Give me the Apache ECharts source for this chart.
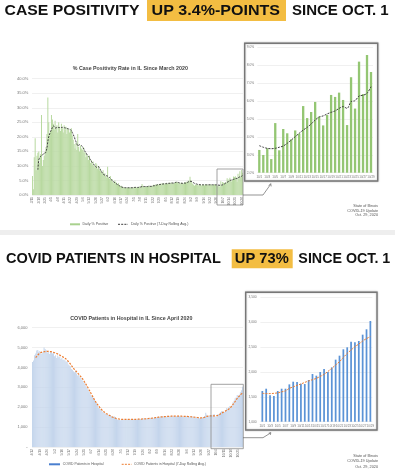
<!DOCTYPE html>
<html><head><meta charset="utf-8">
<script src="https://cdn.jsdelivr.net/npm/echarts@6/dist/echarts.min.js"></script>
<style>html,body{margin:0;padding:0;background:#fff}#c{width:395px;height:473px}</style>
</head><body><div id="c"></div>
<script>
// ---------- DATA ----------
// Case positivity, daily from 3/11/2020 to 9/30/2020 (%)
const posDaily = [
 6.5,2.0,13.0,19.5,8.5,13.5,14.5,15.0,11.0,14.0,
 27.5,10.0,12.0,13.5,15.0,16.5,21.0,33.5,25.0,20.5,
 22.0,27.5,26.0,24.5,22.5,25.5,23.0,24.0,21.5,25.0,
 23.5,22.0,24.5,23.0,21.5,24.0,22.5,23.5,21.0,23.0,
 22.5,21.5,22.0,23.0,20.5,19.0,17.5,16.0,18.0,15.5,
 21.0,16.5,15.0,17.0,16.0,15.5,16.5,14.5,15.0,13.0,
 14.0,13.5,12.0,13.5,11.0,12.0,10.5,11.5,10.0,9.5,
 11.0,10.5,9.0,10.0,8.5,9.0,8.0,7.5,8.5,7.0,
 7.5,6.5,6.0,9.7,6.0,5.5,6.5,5.0,5.5,4.5,
 4.0,5.0,4.5,4.0,3.5,4.0,3.3,3.0,3.2,2.8,
 2.5,2.7,2.4,2.6,2.3,2.5,2.7,2.4,2.6,2.5,
 2.6,2.4,2.7,2.5,2.8,2.6,2.4,2.7,2.9,2.6,
 3.0,3.8,3.2,2.9,2.7,3.0,2.8,3.1,2.9,3.2,
 3.0,2.8,3.3,3.1,3.5,3.2,3.6,3.4,3.8,3.5,
 3.7,3.9,3.6,4.0,3.8,4.1,3.7,3.9,4.2,3.8,
 4.0,4.3,3.9,4.1,4.4,3.8,4.0,4.2,4.6,4.3,
 4.5,4.0,4.2,3.9,4.1,4.3,3.8,4.0,4.4,4.2,
 4.6,4.3,5.0,4.8,6.3,5.2,4.4,3.8,3.5,3.2,
 3.6,3.4,3.7,3.3,3.5,3.8,3.4,3.2,3.6,3.5,
 3.3,3.7,3.4,3.6,3.5,3.2,3.8,3.4,3.6,3.3,
 3.5,3.7,3.4,3.6
];
const posAvg = [
 null,null,null,null,null,null,8.7,12.1,12.8,13.3,
 13.6,13.8,14.0,14.4,14.4,15.0,16.1,18.5,20.1,21.0,
 21.8,22.5,23.2,23.8,23.5,23.0,23.1,23.2,23.3,23.2,
 23.2,23.1,23.2,23.3,23.1,23.2,23.0,23.1,22.9,22.8,
 22.7,22.6,22.4,22.2,21.5,20.8,20.1,19.2,18.4,17.6,
 16.9,17.1,17.3,17.2,17.0,16.7,16.2,15.8,15.0,14.6,
 14.0,13.6,13.3,12.7,12.1,11.6,11.2,10.8,10.4,10.0,
 9.7,9.5,9.6,9.8,9.2,8.7,8.2,7.7,7.2,7.0,
 6.8,6.7,6.6,6.5,6.3,6.0,5.7,5.3,5.0,4.7,
 4.5,4.2,4.0,3.8,3.6,3.4,3.2,3.0,2.8,2.7,
 2.6,2.6,2.5,2.5,2.5,2.5,2.5,2.5,2.5,2.5,
 2.5,2.5,2.6,2.6,2.6,2.6,2.6,2.6,2.7,2.7,
 2.8,2.9,2.9,2.9,2.9,2.9,2.9,2.9,3.0,3.0,
 3.0,2.9,3.0,3.1,3.2,3.2,3.3,3.4,3.5,3.5,
 3.6,3.6,3.7,3.7,3.8,3.8,3.9,3.9,3.9,3.9,
 4.0,4.0,4.0,4.1,4.1,4.1,4.1,4.2,4.3,4.4,
 4.4,4.3,4.2,4.1,4.1,4.0,4.0,4.0,4.1,4.1,
 4.2,4.3,4.5,4.6,4.7,4.7,4.6,4.4,4.2,4.0,
 3.9,3.8,3.7,3.6,3.6,3.5,3.5,3.5,3.5,3.5,
 3.5,3.5,3.5,3.5,3.5,3.5,3.5,3.5,3.5,3.5,
 3.5,3.5,3.5,3.5
];
// October 1-29 (inset)
const posOctDaily = [3.27,2.99,3.36,2.76,4.77,3.25,4.44,4.20,3.86,4.36,4.18,5.72,5.05,5.39,5.95,5.13,4.64,5.22,6.34,6.23,6.47,6.06,4.66,7.33,5.58,8.20,6.39,8.57,7.62];
const posOctAvg = [3.51,3.42,3.36,3.34,3.36,3.42,3.49,3.64,3.82,4.01,4.20,4.38,4.53,4.72,4.94,5.11,5.17,5.28,5.37,5.45,5.59,5.69,5.59,5.97,6.02,6.28,6.32,6.43,6.80];

// Hospital patients, daily from 4/12/2020 to 9/30/2020
const hospDaily = [
 4280,4350,4610,4700,4850,4880,4790,4830,4680,4720,
 4760,5010,4930,4870,4750,4790,4680,4820,4760,4700,
 4730,4560,4620,4480,4600,4520,4550,4430,4480,4380,
 4400,4350,4280,4320,4150,4100,4060,3920,3880,3810,
 3760,3820,3700,3590,3620,3510,3480,3400,3330,3250,
 3190,3050,2950,2870,2760,2640,2580,2520,2480,2370,
 2300,2200,2080,1960,1920,1880,1830,1760,1720,1700,
 1660,1640,1620,1580,1600,1560,1540,1510,1530,1480,
 1420,1370,1360,1390,1350,1380,1400,1370,1360,1390,
 1380,1400,1370,1390,1360,1400,1380,1410,1390,1370,
 1400,1420,1390,1410,1380,1420,1440,1400,1410,1430,
 1450,1420,1460,1440,1480,1450,1470,1500,1480,1510,
 1520,1500,1540,1510,1550,1530,1560,1520,1540,1570,
 1550,1530,1560,1540,1570,1550,1520,1560,1540,1570,
 1550,1530,1560,1540,1520,1550,1530,1560,1510,1540,
 1520,1550,1500,1530,1480,1460,1490,1450,1470,1440,
 1460,1430,1480,1510,1560,1720,1620,1540,1570,1560,
 1590,1580
];
const hospAvg = [
 null,null,null,4500,4560,4620,4680,4720,4750,4770,
 4780,4790,4800,4810,4810,4810,4800,4800,4790,4780,
 4760,4740,4720,4700,4680,4650,4620,4590,4560,4530,
 4500,4460,4420,4370,4310,4250,4180,4100,4030,3960,
 3900,3840,3780,3720,3660,3600,3540,3470,3400,3320,
 3240,3150,3060,2970,2870,2770,2670,2570,2470,2380,
 2290,2210,2130,2060,1990,1930,1870,1820,1770,1730,
 1690,1660,1630,1600,1570,1540,1510,1490,1470,1450,
 1430,1420,1410,1400,1395,1390,1385,1385,1385,1385,
 1385,1385,1385,1385,1385,1390,1390,1390,1390,1395,
 1395,1400,1400,1405,1405,1410,1410,1415,1420,1425,
 1430,1435,1440,1445,1450,1460,1465,1475,1480,1490,
 1500,1505,1510,1515,1520,1525,1530,1535,1540,1540,
 1545,1545,1550,1550,1550,1550,1550,1550,1550,1550,
 1550,1550,1550,1545,1545,1540,1540,1540,1535,1530,
 1525,1520,1515,1510,1500,1495,1490,1485,1475,1470,
 1465,1465,1470,1480,1495,1520,1540,1555,1565,1570,
 1570,1570
];
const hospOctDaily = [1617,1663,1530,1516,1617,1663,1663,1750,1804,1797,1764,1757,1838,1958,1925,1999,2059,1999,2092,2247,2327,2455,2495,2609,2595,2622,2749,2857,3024];
const hospOctAvg = [1570,1565,1565,1570,1580,1600,1620,1670,1700,1730,1757,1790,1818,1845,1871,1910,1952,2010,2072,2140,2206,2290,2374,2440,2508,2560,2622,2670,2710];

const octCats = ['10/1','10/2','10/3','10/4','10/5','10/6','10/7','10/8','10/9','10/10','10/11','10/12','10/13','10/14','10/15','10/16','10/17','10/18','10/19','10/20','10/21','10/22','10/23','10/24','10/25','10/26','10/27','10/28','10/29'];
const posStart = [3, 11];
const hospStart = [4, 12];
const posTicks = [0,5,10,15,20,25,30,35,40];
const posOctTicks = [2,3,4,5,6,7,8,9];
const hospTicks = [0,1000,2000,3000,4000,5000,6000];
const hospOctTicks = [1000,1500,2000,2500,3000,3500];

// ---------- helpers ----------
function dateCats(start, n) {
  const mdays = [0,31,29,31,30,31,30,31,31,30,31,30,31];
  let m = start[0], d = start[1]; const out = [];
  for (let i = 0; i < n; i++) {
    out.push(m + '/' + d);
    d++; if (d > mdays[m]) { d = 1; m++; }
  }
  return out;
}
const posAllDaily = posDaily.concat(posOctDaily);
const posAllAvg = posAvg.concat(posOctAvg);
const hospAllDaily = hospDaily.concat(hospOctDaily);
const hospAllAvg = hospAvg.concat(hospOctAvg);
const posCats = dateCats(posStart, posAllDaily.length);
const hospCats = dateCats(hospStart, hospAllDaily.length);

const FF = '"Liberation Sans", Arial, sans-serif';
const GRID_C = '#e6e6e6';
const LBL_C = '#777';
const GREEN = '#b8d9a0', GREEN2 = '#94c673', DARK = '#3f3f3f';
const BLUE_L = '#c4d5ec', BLUE = '#5b93d6', ORANGE = '#ed7d31';

function yAx(gi, min, max, step, fmt, fs, margin) {
  return { type:'value', gridIndex:gi, min, max, interval:step, z:3,
    axisLine:{show:false}, axisTick:{show:false},
    splitLine:{lineStyle:{color:GRID_C, width:0.6}},
    axisLabel:{fontSize:fs, color:LBL_C, fontFamily:FF, margin, formatter:fmt} };
}
function xAx(gi, cats, lblOpt) {
  return Object.assign({ type:'category', gridIndex:gi, data:cats, z:3,
    axisLine:{show:false}, axisTick:{show:false}, splitLine:{show:false} }, {axisLabel:lblOpt});
}
const pctFmt = v => v.toFixed(1) + '%';
const numFmt = v => v === 0 ? '-' : v.toLocaleString('en-US');

function T(x, y, text, size, opts) {
  opts = opts || {};
  return { type:'text', x, y, z:20, scaleX: opts.sx || 1,
    style:{ x:0, y:0, text, fill: opts.color || '#111', font: (opts.weight||'normal') + ' ' + size + 'px ' + FF,
      textAlign: opts.align || 'left', textVerticalAlign:'middle' } };
}

const graphics = [
  // headline 1
  { type:'rect', z:5, shape:{x:147, y:0, width:139, height:21}, style:{fill:'#F3BD42'} },
  T(72, 10.5, 'CASE POSITIVITY', 15, {weight:'bold', align:'center', sx:1.05}),
  T(215.8, 10.5, 'UP 3.4%-POINTS', 15, {weight:'bold', align:'center', sx:1.07}),
  T(340.3, 10.5, 'SINCE OCT. 1', 15, {weight:'bold', align:'center', sx:1.0}),
  // headline 2
  { type:'rect', z:5, shape:{x:231.7, y:249.3, width:61, height:19}, style:{fill:'#F3BD42'} },
  T(113.5, 259, 'COVID PATIENTS IN HOSPITAL', 15, {weight:'bold', align:'center', sx:0.97}),
  T(261.8, 259, 'UP 73%', 15, {weight:'bold', align:'center', sx:0.98}),
  T(344.3, 259, 'SINCE OCT. 1', 15, {weight:'bold', align:'center', sx:0.95}),
  // chart titles
  T(130.3, 69, '% Case Positivity Rate in IL Since March 2020', 5.3, {weight:'bold', align:'center', color:'#444'}),
  T(131.3, 318.7, 'COVID Patients in Hospital in IL Since April 2020', 5.3, {weight:'bold', align:'center', color:'#444'}),
  // inset frames
  { type:'rect', z:1, shape:{x:244.7, y:43.3, width:133, height:137.7}, style:{fill:'#fff', stroke:'#777', lineWidth:1.4, shadowBlur:2, shadowColor:'rgba(0,0,0,0.25)'} },
  { type:'rect', z:1, shape:{x:245.7, y:292.3, width:131.3, height:137.7}, style:{fill:'#fff', stroke:'#777', lineWidth:1.4, shadowBlur:2, shadowColor:'rgba(0,0,0,0.25)'} },
  // zoom boxes in main charts
  { type:'rect', z:20, shape:{x:217, y:169, width:26, height:36}, style:{fill:null, stroke:'#8a8a8a', lineWidth:0.8} },
  { type:'rect', z:20, shape:{x:211, y:384.3, width:32.3, height:64.4}, style:{fill:null, stroke:'#8a8a8a', lineWidth:0.8} },
  // connectors
  { type:'polyline', z:20, shape:{points:[[243,195],[263,195],[270.5,184.5]]}, style:{fill:null, stroke:'#666', lineWidth:0.7} },
  { type:'polyline', z:20, shape:{points:[[268.8,185.6],[270.7,183.6],[271.2,186.4]]}, style:{fill:null, stroke:'#666', lineWidth:0.7} },
  { type:'polyline', z:20, shape:{points:[[243,437.7],[263,437.7],[270.5,433]]}, style:{fill:null, stroke:'#666', lineWidth:0.7} },
  { type:'polyline', z:20, shape:{points:[[268.7,433.2],[270.8,432.6],[270.4,434.9]]}, style:{fill:null, stroke:'#666', lineWidth:0.7} },
  // legends
  { type:'line', z:20, shape:{x1:70, y1:224.3, x2:80, y2:224.3}, style:{stroke:'#a9d18e', lineWidth:2} },
  T(82.5, 224.3, 'Daily % Positive', 3.6, {color:'#555'}),
  { type:'line', z:20, shape:{x1:118, y1:224.3, x2:128, y2:224.3}, style:{stroke:DARK, lineWidth:1, lineDash:[2,1.2]} },
  T(131, 224.3, 'Daily % Positive (7-Day Rolling Avg.)', 3.5, {color:'#555'}),
  { type:'line', z:20, shape:{x1:49, y1:464.3, x2:60, y2:464.3}, style:{stroke:'#4a7fcf', lineWidth:2} },
  T(62.7, 464.3, 'COVID Patients in Hospital', 3.4, {color:'#555'}),
  { type:'line', z:20, shape:{x1:121.7, y1:464.3, x2:131.7, y2:464.3}, style:{stroke:ORANGE, lineWidth:1, lineDash:[2,1.2]} },
  T(134, 464.3, 'COVID Patients in Hospital (7-Day Rolling Avg.)', 3.4, {color:'#555'}),
  // source
  T(378, 206, 'State of Illinois', 3.8, {color:'#555', align:'right'}),
  T(378, 210.6, 'COVID-19 Update', 3.8, {color:'#555', align:'right'}),
  T(378, 215.2, 'Oct. 29, 2020', 3.8, {color:'#555', align:'right'}),
  T(378, 455.7, 'State of Illinois', 3.8, {color:'#555', align:'right'}),
  T(378, 461.2, 'COVID-19 Update', 3.8, {color:'#555', align:'right'}),
  T(378, 466.7, 'Oct. 29, 2020', 3.8, {color:'#555', align:'right'}),
  // divider
  { type:'rect', z:1, shape:{x:0, y:230, width:395, height:5}, style:{fill:'#eeeeee'} }
];

const chart = echarts.init(document.getElementById('c'), null, {renderer:'canvas'});
chart.setOption({
  animation:false,
  backgroundColor:'#fff',
  grid:[
    {left:32, right:152, top:78.7, bottom:278},
    {left:257.3, right:22, top:47.3, bottom:300.3},
    {left:32, right:152, top:327.7, bottom:26},
    {left:260.4, right:22.7, top:297.3, bottom:51.3}
  ],
  xAxis:[
    xAx(0, posCats, {fontSize:3.4, color:LBL_C, fontFamily:FF, rotate:90, margin:2, interval:(i)=>i%7===0}),
    xAx(1, octCats, {fontSize:3, color:LBL_C, fontFamily:FF, margin:2.5, interval:1}),
    xAx(2, hospCats, {fontSize:3.4, color:LBL_C, fontFamily:FF, rotate:90, margin:2, interval:(i)=>i%7===0}),
    xAx(3, octCats, {fontSize:3, color:LBL_C, fontFamily:FF, margin:2.5, interval:1})
  ],
  yAxis:[
    yAx(0, posTicks[0], posTicks[posTicks.length-1], 5, pctFmt, 4, 3.7),
    yAx(1, posOctTicks[0], posOctTicks[posOctTicks.length-1], 1, pctFmt, 3.3, 3),
    yAx(2, hospTicks[0], hospTicks[hospTicks.length-1], 1000, numFmt, 4, 4.5),
    yAx(3, hospOctTicks[0], hospOctTicks[hospOctTicks.length-1], 500, numFmt, 3.3, 3.7)
  ],
  series:[
    {name:'Daily % Positive', type:'bar', xAxisIndex:0, yAxisIndex:0, data:posAllDaily, z:4,
      barCategoryGap:'30%', itemStyle:{color:GREEN}},
    {name:'Daily % Positive (7-Day Rolling Avg.)', type:'line', xAxisIndex:0, yAxisIndex:0, data:posAllAvg, z:5,
      showSymbol:false, smooth:0.3, lineStyle:{color:DARK, width:1, type:[2,1.2]}},
    {name:'oct pos', type:'bar', xAxisIndex:1, yAxisIndex:1, data:posOctDaily, z:4,
      barCategoryGap:'42%', itemStyle:{color:GREEN2}},
    {name:'oct pos avg', type:'line', xAxisIndex:1, yAxisIndex:1, data:posOctAvg, z:5,
      showSymbol:false, smooth:0.3, lineStyle:{color:DARK, width:1, type:[2,1.2]}},
    {name:'COVID Patients in Hospital', type:'bar', xAxisIndex:2, yAxisIndex:2, data:hospAllDaily, z:4,
      barCategoryGap:'5%', itemStyle:{color:BLUE_L}},
    {name:'COVID Patients in Hospital (7-Day Rolling Avg.)', type:'line', xAxisIndex:2, yAxisIndex:2, data:hospAllAvg, z:5,
      showSymbol:false, smooth:0.3, lineStyle:{color:ORANGE, width:1.2, type:[2,1.3]}},
    {name:'oct hosp', type:'bar', xAxisIndex:3, yAxisIndex:3, data:hospOctDaily, z:4,
      barCategoryGap:'55%', itemStyle:{color:BLUE}},
    {name:'oct hosp avg', type:'line', xAxisIndex:3, yAxisIndex:3, data:hospOctAvg, z:5,
      showSymbol:false, smooth:0.3, lineStyle:{color:ORANGE, width:1, type:[2,1.2]}}
  ],
  graphic:{elements:graphics}
});
</script></body></html>
